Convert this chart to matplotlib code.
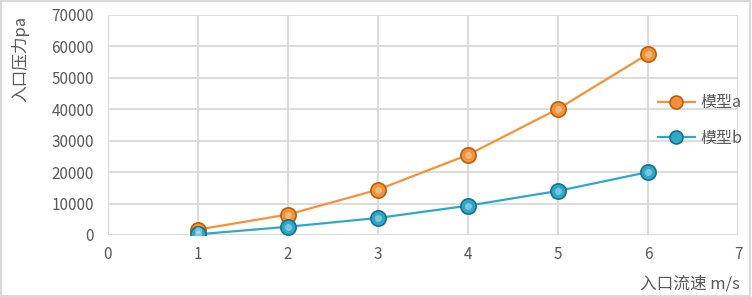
import matplotlib
matplotlib.use('Agg')
from matplotlib import pyplot as plt
from matplotlib.patches import Rectangle

plt.rcParams['font.family'] = ['Noto Sans CJK SC', 'DejaVu Sans']

# datos
speed = [1, 2, 3, 4, 5, 6]
model_a = [1700, 6500, 14400, 25500, 40100, 57600]
model_b = [200, 2600, 5400, 9300, 14000, 20000]
labels = ['模型a', '模型b']

grey = '#595959'
orange, orange_dark = '#F39237', '#B95F10'
blue, blue_dark = '#2FA8C9', '#17708A'

fig = plt.figure(figsize=(7.52, 2.97), dpi=100)
ax = fig.add_axes([0.1436, 0.209, 0.8378, 0.7405])

for ys, c, cd, lab in [(model_a, orange, orange_dark, labels[0]),
                       (model_b, blue, blue_dark, labels[1])]:
    ax.plot(speed, ys, color=c, linewidth=1.6, marker='o', markersize=11,
            markerfacecolor=c, markeredgecolor=cd, markeredgewidth=1.2,
            label=lab, zorder=3)
    # brillo de la esfera
    ax.plot(speed, ys, linestyle='none', marker='o', markersize=5,
            markerfacecolor='white', markeredgewidth=0, alpha=0.35, zorder=4)

ax.set_xlim(0, 7)
ax.set_ylim(0, 70000)
ax.set_xticks(range(0, 8))
ax.set_yticks(range(0, 70001, 10000))
ax.grid(True, color='#D9D9D9', linewidth=1.3)
ax.set_axisbelow(True)
for s in ax.spines.values():
    s.set_visible(False)
ax.tick_params(length=0, labelsize=11, labelcolor=grey, pad=8)
ax.tick_params(axis='y', pad=10)

fig.text(0.027, 0.80, '入口压力pa', rotation=90, ha='center', va='center',
         fontsize=12, color=grey)
fig.text(0.984, 0.045, '入口流速 m/s', ha='right', va='center',
         fontsize=12, color=grey)

leg = ax.legend(loc='center left', bbox_to_anchor=(0.86, 0.52), frameon=False,
                fontsize=11.5, labelcolor=grey, handlelength=2.3, handletextpad=0.35,
                labelspacing=1.15, borderpad=0, markerscale=0.85)

fig.patches.append(Rectangle((0.001, 0.002), 0.997, 0.995, transform=fig.transFigure,
                             fill=False, edgecolor='#D9D9D9', linewidth=1.5))

plt.savefig('out.png', dpi=100)
